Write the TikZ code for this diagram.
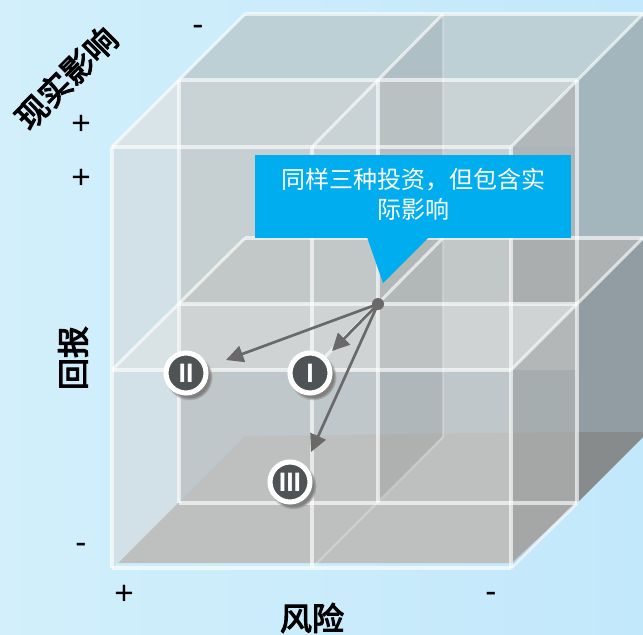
\documentclass[tikz,border=0pt]{standalone}
\usepackage{fontspec}
\usepackage{tikz}
\usetikzlibrary{arrows.meta,shadows,fadings}
\newfontfamily\cjkfont{Noto Sans CJK SC}
\newfontfamily\labelfont[FakeBold=3.5]{Noto Sans CJK SC}
\newfontfamily\signfont{Liberation Sans}
\definecolor{bgleft}{HTML}{D2EFFB}
\definecolor{bgright}{HTML}{C2E8FB}
\definecolor{calloutblue}{HTML}{00AEEF}
\definecolor{arrowgrey}{HTML}{696969}
\definecolor{badgegrey}{HTML}{4E5355}
\definecolor{sidewall}{RGB}{210,225,232}
\definecolor{sidetop}{RGB}{216,228,232}
\definecolor{sidemid}{RGB}{217,226,229}
\definecolor{topface}{RGB}{189,208,214}
\definecolor{rightupper}{RGB}{163,182,190}
\definecolor{rightledge}{RGB}{174,178,178}
\definecolor{rightlower}{RGB}{145,157,163}
\definecolor{rightfloor}{RGB}{135,139,139}
\definecolor{wallone}{RGB}{201,210,212}
\definecolor{walltwo}{RGB}{198,207,210}
\definecolor{ledge}{RGB}{194,199,200}
\definecolor{ledgetop}{RGB}{207,211,212}
\definecolor{wallthree}{RGB}{191,199,202}
\definecolor{floorface}{RGB}{190,192,191}
\tikzset{
  edge/.style={white,opacity=0.64,line width=2.3pt},
  backedge/.style={white,opacity=0.25,line width=1.6pt},
  darken/.style={fill=black,opacity=#1},
  axislabel/.style={font=\labelfont\fontsize{24}{24}\selectfont,text=black,inner sep=0pt},
  sign/.style={font=\signfont\fontsize{25}{25}\selectfont,text=black,inner sep=0pt},
  badge/.style={circle,draw=white,line width=3.8pt,fill=badgegrey,minimum size=30pt,inner sep=0pt,
    text=white,font=\signfont\bfseries\fontsize{20}{20}\selectfont,
    circular drop shadow={shadow xshift=2pt,shadow yshift=-2.5pt,shadow scale=1.18,opacity=1}},
  move/.style={arrowgrey,line width=2pt,-{Triangle[length=13pt,width=12.5pt]}}
}
\begin{document}
\begin{tikzpicture}[x=0.75pt,y=-0.75pt]
  \useasboundingbox (0,0) rectangle (643,635);
  \fill[left color=bgleft,right color=bgright] (0,0) rectangle (643,635);
  % left wall
  \fill[sidewall] (112,147) -- (179,80) -- (179,503) -- (112,568) -- cycle;
  \fill[sidetop] (112,147) -- (179,80) -- (179,147) -- cycle;
  \fill[sidemid] (112,370) -- (179,304) -- (179,370) -- cycle;
  % top and middle walls
  \fill[topface] (179,80) -- (245,14) -- (643,14) -- (577,80) -- cycle;
  \fill[wallone] (179,80) rectangle (577,147);
  \fill[walltwo] (179,147) rectangle (577,238);
  \fill[ledge] (179,238) rectangle (577,304);
  \fill[walltwo] (179,238) -- (245,238) -- (179,304) -- cycle;
  \fill[ledgetop] (179,304) rectangle (577,370);
  \fill[wallthree] (179,370) rectangle (577,503);
  % floor
  \fill[floorface] (118,563) -- (245,436) -- (577,432) -- (577,503) -- (511,563) -- cycle;
  % outer right wall
  \fill[rightupper] (577,80) -- (643,14) -- (643,238) -- (577,238) -- cycle;
  \fill[rightledge] (577,238) -- (643,238) -- (577,304) -- cycle;
  \fill[rightlower] (643,238) -- (643,432) -- (577,432) -- (577,304) -- cycle;
  \fill[rightfloor] (577,432) -- (643,432) -- (643,437) -- (577,503) -- cycle;
  % darker side faces
  \fill[darken=0.08] (378,80) -- (443,14) -- (443,436) -- (378,503) -- cycle;
  \fill[darken=0.12] (511,147) -- (577,80) -- (577,304) -- (511,304) -- cycle;
  \fill[darken=0.13] (511,370) -- (577,304) -- (577,503) -- (511,568) -- cycle;
  % lattice at the back
  \draw[backedge] (443,14) -- (443,437);
  \draw[backedge] (312,568) -- (443,437);
  \draw[edge] (245,14) -- (643,14);
  \draw[edge] (245,238) -- (643,238);
  % lattice in the middle
  \draw[edge] (179,80) -- (577,80);
  \draw[edge] (179,304) -- (577,304);
  \draw[edge] (179,503) -- (577,503);
  \draw[edge] (179,80) -- (179,503);
  \draw[edge] (378,80) -- (378,503);
  \draw[edge] (577,80) -- (577,503);
  % diagonals
  \draw[edge] (112,147) -- (245,14);
  \draw[edge] (312,147) -- (443,14);
  \draw[edge] (511,147) -- (643,14);
  \draw[edge] (112,370) -- (245,238);
  \draw[edge] (312,370) -- (443,238);
  \draw[edge] (511,370) -- (643,238);
  \draw[edge] (511,568) -- (577,503);
  % lattice at the front
  \draw[edge] (112,147) -- (511,147);
  \draw[edge] (112,370) -- (511,370);
  \draw[edge] (112,568) -- (511,568);
  \draw[edge] (112,147) -- (112,568);
  \draw[edge] (312,147) -- (312,568);
  \draw[edge] (511,147) -- (511,568);
  % callout
  \fill[calloutblue] (255,155) rectangle (571,238);
  \fill[calloutblue] (367,237) -- (383,283) -- (429,237) -- cycle;
  \node[align=center,text=white,font=\cjkfont\fontsize{18}{22.2}\selectfont,inner sep=0pt] (note) at (413,194.5) {同样三种投资，但包含实\\际影响};
  % axis labels
  \node[axislabel,rotate=45] (depthlabel) at (66,78) {现实影响};
  \node[axislabel,rotate=90] (returnlabel) at (73,358) {回报};
  \node[axislabel] (risklabel) at (312,618) {风险};
  \node[sign] (depthplus) at (81,125) {+};
  \node[sign] (depthminus) at (198,30) {-};
  \node[sign] (returnplus) at (81,179) {+};
  \node[sign] (returnminus) at (81,548) {-};
  \node[sign] (riskplus) at (124,595) {+};
  \node[sign] (riskminus) at (491,597) {-};
  % points and arrows
  \node[circle,fill=arrowgrey,minimum size=9pt,inner sep=0pt] (start) at (378,304) {};
  \coordinate (endtwo) at (226,360);
  \coordinate (endone) at (332,351);
  \coordinate (endthree) at (311,452);
  \draw[move] (start.center) -- (endtwo);
  \draw[move] (start.center) -- (endone);
  \draw[move] (start.center) -- (endthree);
  \node[badge] (two) at (186,373) {II};
  \node[badge] (one) at (310,373) {I};
  \node[badge] (three) at (290,482) {III};
\end{tikzpicture}
\end{document}
